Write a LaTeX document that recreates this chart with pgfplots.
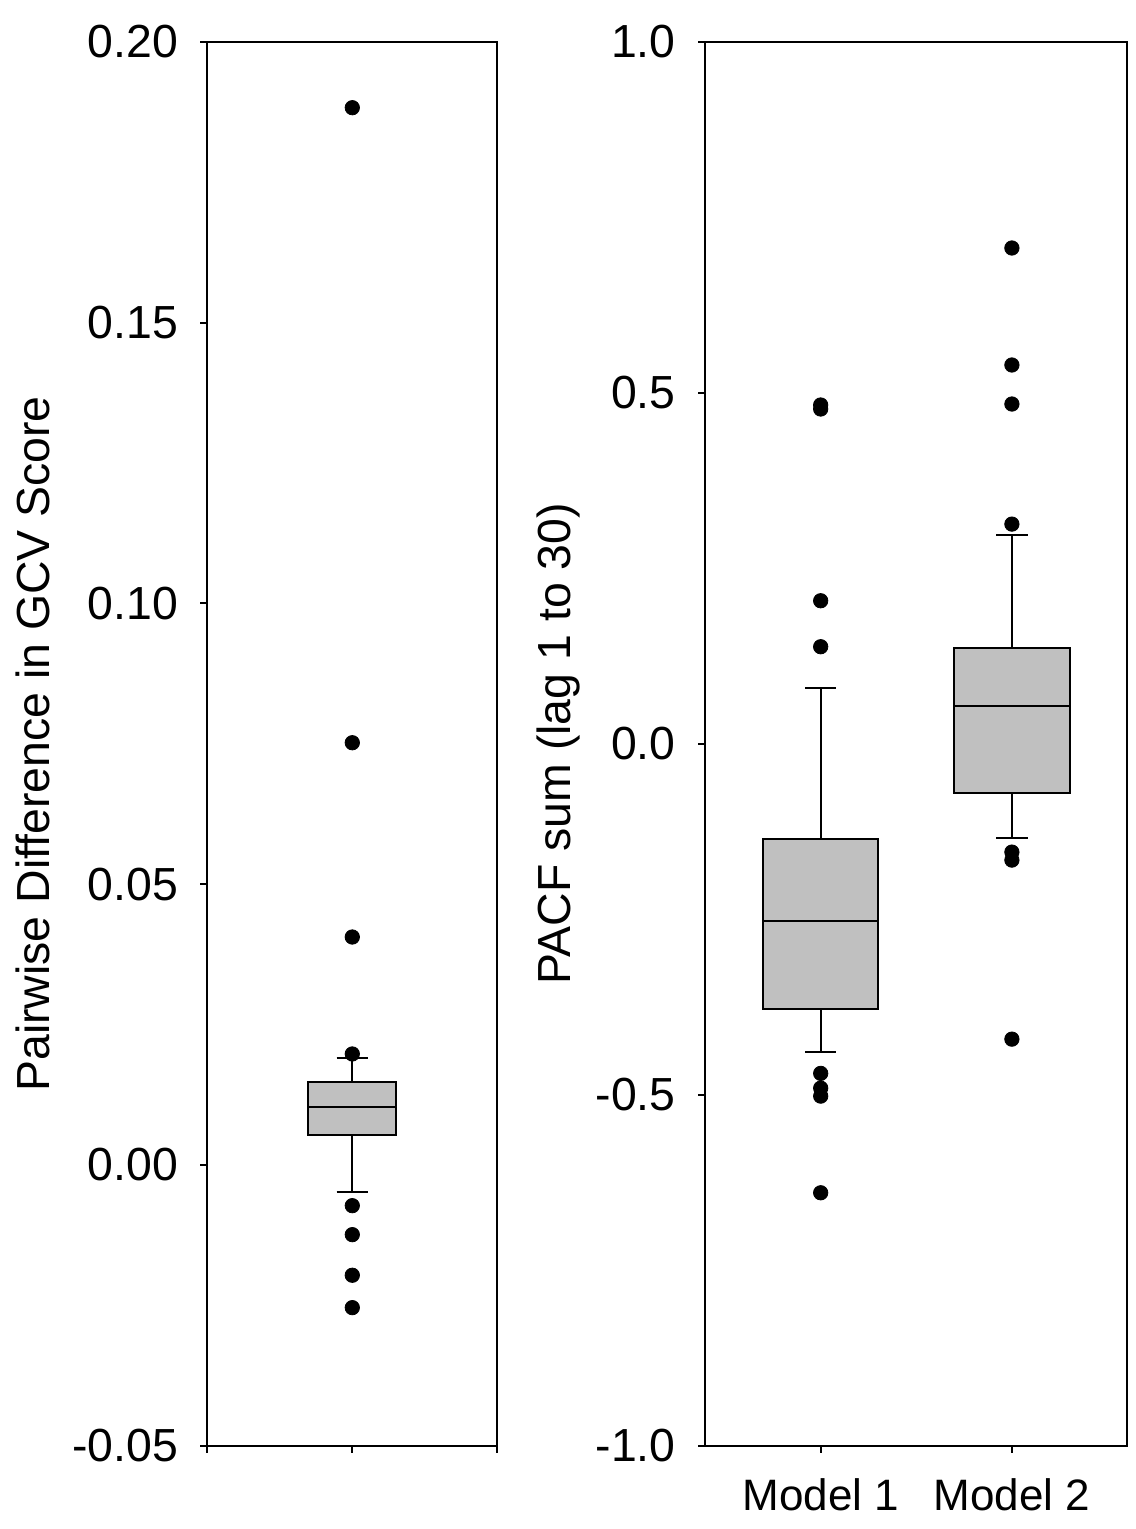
\documentclass[border=0pt]{standalone}
\usepackage{pgfplots}
\pgfplotsset{compat=1.18}
\usepgfplotslibrary{statistics}
\usepackage{fontspec}
\setmainfont{Liberation Sans}
\definecolor{boxgray}{RGB}{192,192,192}

\pgfplotsset{
 mystyle/.style={
  scale only axis, height=701.85bp,
  axis line style={line width=1bp},
  tick style={black, line width=1bp},
  tick align=outside, major tick length=3.5bp,
  xtick pos=bottom, ytick pos=left,
  font=\fontsize{22bp}{26bp}\selectfont,
  yticklabel style={anchor=east, inner sep=0pt, xshift=-11bp, font=\fontsize{23.2bp}{27bp}\selectfont},
  xticklabel style={anchor=north, inner sep=0pt, yshift=-12.5bp},
  clip=false,
  boxplot/draw direction=y,
  every axis y label/.style={rotate=90, anchor=north, inner sep=0pt, font=\fontsize{23.2bp}{27bp}\selectfont},
 }
}

\begin{document}
\begin{tikzpicture}
\path[use as bounding box] (0,0) rectangle (568bp,-764.5bp);

\begin{axis}[mystyle, at={(103.65bp,-722.85bp)}, anchor=south west, width=145bp,
  xmin=0, xmax=2, ymin=-0.05, ymax=0.20,
  xtick={0,1,2}, xticklabels={},
  ytick={-0.05,0,0.05,0.10,0.15,0.20},
  yticklabels={-0.05,0.00,0.05,0.10,0.15,0.20},
  ylabel={Pairwise Difference in GCV Score},
  ylabel style={at={(axis description cs:-0.663,0.5)}},
]
\addplot[draw=black, line width=1bp, fill=boxgray,
  boxplot prepared={draw position=1, median=0.01033, upper quartile=0.01478,
  lower quartile=0.0054, upper whisker=0.01911, lower whisker=-0.00481,
  box extend=0.607, whisker extend=0.216}] coordinates {};
\addplot[only marks, mark=*, mark size=3.6bp, mark options={fill=black, draw=black}]
  coordinates {(1,0.1883) (1,0.0752) (1,0.0406) (1,0.01977) (1,-0.00725) (1,-0.01241) (1,-0.01964) (1,-0.02541)};
\end{axis}

\begin{axis}[mystyle, at={(352.5bp,-722.85bp)}, anchor=south west, width=211bp,
  xmin=0.395, xmax=2.602, ymin=-1, ymax=1,
  xtick={1,2}, xticklabels={Model 1, Model 2},
  ytick={-1,-0.5,0,0.5,1},
  yticklabels={-1.0,-0.5,0.0,0.5,1.0},
  ylabel={PACF sum (lag 1 to 30)},
  ylabel style={at={(axis description cs:-0.4,0.5)}},
]
\addplot[draw=black, line width=1bp, fill=boxgray,
  boxplot prepared={draw position=1, median=-0.2529, upper quartile=-0.1357,
  lower quartile=-0.3775, upper whisker=0.0799, lower whisker=-0.4387,
  box extend=0.604, whisker extend=0.164}] coordinates {};
\addplot[draw=black, line width=1bp, fill=boxgray,
  boxplot prepared={draw position=2, median=0.0539, upper quartile=0.1369,
  lower quartile=-0.0701, upper whisker=0.2980, lower whisker=-0.1338,
  box extend=0.604, whisker extend=0.164}] coordinates {};
\addplot[only marks, mark=*, mark size=3.6bp, mark options={fill=black, draw=black}]
  coordinates {(1,0.4828) (1,0.4771) (1,0.2039) (1,0.1384) (1,-0.4695) (1,-0.4905) (1,-0.5019) (1,-0.6396)
               (2,0.7065) (2,0.5398) (2,0.4842) (2,0.3131) (2,-0.1542) (2,-0.1656) (2,-0.4207)};
\end{axis}
\end{tikzpicture}
\end{document}
